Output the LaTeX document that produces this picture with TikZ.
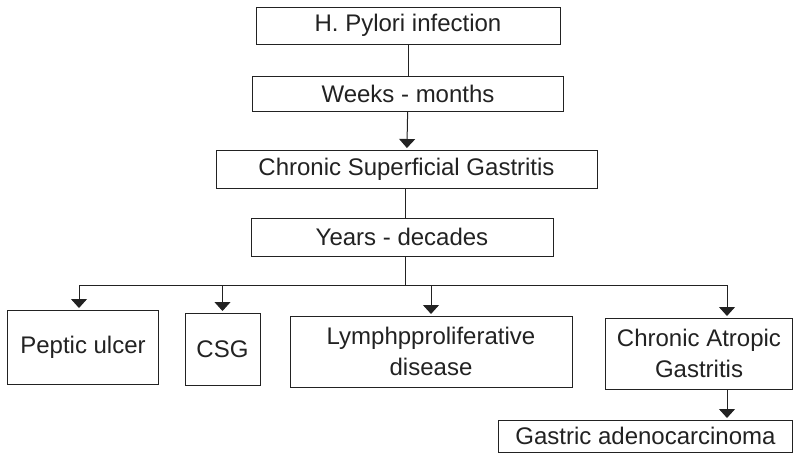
\documentclass[tikz,border=0pt]{standalone}
\usepackage{fontspec}
\setmainfont{Liberation Sans}
\usepackage{xcolor}
\usepackage{tikz}
\usetikzlibrary{arrows.meta}
\definecolor{cInk}{HTML}{222222}
\tikzset{
  stage/.style ={rectangle, draw=cInk, line width=1pt, fill=white, align=center,
                 text=cInk, font=\fontsize{24}{31}\selectfont, inner sep=2pt},
  ln/.style    ={draw=cInk, line width=1pt},
  fl/.style    ={-{Triangle[length=9pt,width=16pt]}, draw=cInk, line width=1pt,
                 shorten >=1.5pt},
}
\begin{document}
\begin{tikzpicture}[x=1pt,y=-1pt]
  \useasboundingbox (0,0) rectangle (794,456);
  % top chain
  \node[stage,minimum width=304pt,minimum height=37pt] (hp)  at (408,25.5) {H. Pylori infection};
  \node[stage,minimum width=311pt,minimum height=35pt] (wk)  at (408,93.5) {Weeks - months};
  \node[stage,minimum width=381pt,minimum height=38pt] (csg) at (406.5,169) {Chronic Superficial Gastritis};
  \node[stage,minimum width=302pt,minimum height=38pt] (yr)  at (402,237) {Years - decades};
  % outcomes
  \node[stage,minimum width=151pt,minimum height=74pt] (pu)  at (83,347) {Peptic ulcer};
  \node[stage,minimum width=75pt,minimum height=72pt]  (cs)  at (222.5,349) {CSG};
  \node[stage,minimum width=282pt,minimum height=71pt] (lym) at (431,351.5) {Lymphpproliferative\\disease};
  \node[stage,minimum width=187pt,minimum height=71pt] (cag) at (699,353.5) {Chronic Atropic\\Gastritis};
  \node[stage,minimum width=294pt,minimum height=32pt] (gac) at (645.5,436) {Gastric adenocarcinoma};
  \coordinate (split) at (405,285);

  \draw[ln] (hp)--(wk); \draw[fl] (wk)--(csg);
  \draw[ln] (csg.south -| split)--(yr.north -| split);
  \draw[ln] (yr.south -| split)--(split);
  \draw[fl] (split) -| ([xshift=-4pt]pu.north);
  \draw[fl] (split) -| (cs);
  \draw[fl] (split) -| (lym);
  \draw[fl] (split) -| ([xshift=28pt]cag.north);
  \draw[fl] ([xshift=28pt]cag.south) -- ([xshift=81.5pt]gac.north);
\end{tikzpicture}
\end{document}
